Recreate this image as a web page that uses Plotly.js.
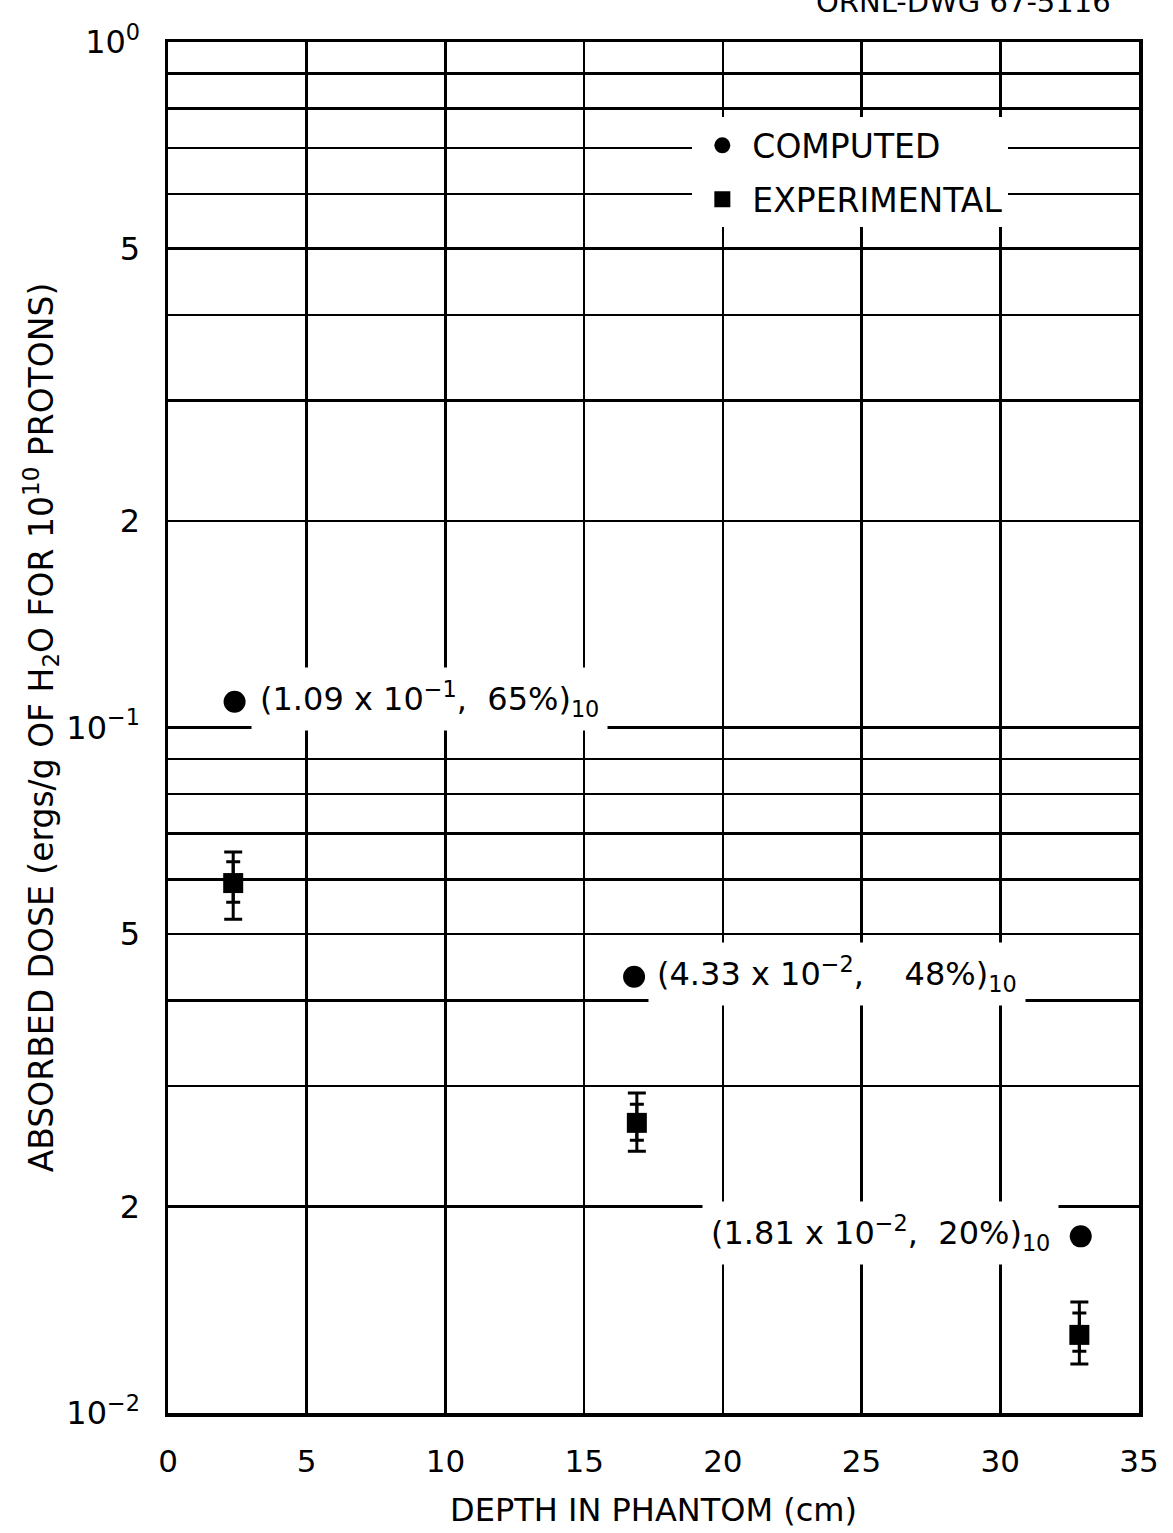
<!DOCTYPE html>
<html>
<head>
<meta charset="utf-8">
<script src="https://cdn.plot.ly/plotly-3.0.1.min.js"></script>
<style>html,body{margin:0;padding:0;background:#fff;}#chart{width:1173px;height:1533px;}</style>
</head>
<body>
<div id="chart"></div>
<script>
// Computed values
var compDepth = [2.4, 16.8, 32.9];
var compDose = [0.109, 0.0433, 0.0181];
var compLabels = ["(1.09 x 10<sup>−1</sup>,  65%)<sub>10</sub>", "(4.33 x 10<sup>−2</sup>,    48%)<sub>10</sub>", "(1.81 x 10<sup>−2</sup>,  20%)<sub>10</sub>"];
// Experimental values
var expDepth = [2.35, 16.9, 32.85];
var expDose = [0.0593, 0.0265, 0.0130];
var expOuterHi = [0.0658, 0.0293, 0.01452];
var expOuterLo = [0.0525, 0.0241, 0.01179];
var expInnerHi = [0.0637, 0.0282, 0.01399];
var expInnerLo = [0.0556, 0.0250, 0.01231];
// Axis ticks
var yTickVals = [0.01,0.02,0.03,0.04,0.05,0.06,0.07,0.08,0.09,0.1,0.2,0.3,0.4,0.5,0.6,0.7,0.8,0.9,1];
var yTickText = ["10<sup>−2</sup>","2","","","5","","","","","10<sup>−1</sup>","2","","","5","","","","","10<sup>0</sup>"];
var xTickVals = [0,5,10,15,20,25,30,35];

function diff(a,b){return a.map(function(v,i){return Math.abs(v-b[i]);});}

var FONT = "DejaVu Sans, Liberation Sans, sans-serif";

var traces = [
  {x: compDepth, y: compDose, mode:'markers', name:'COMPUTED', legendgroup:'a',
   marker:{symbol:'circle', size:22, color:'#000'}},
  {x: expDepth, y: expDose, mode:'markers', name:'EXPERIMENTAL', legendgroup:'b',
   marker:{symbol:'square', size:20, color:'#000'},
   error_y:{type:'data', symmetric:false, array: diff(expOuterHi, expDose), arrayminus: diff(expDose, expOuterLo), color:'#000', thickness:3, width:9}},
  {x: expDepth, y: expDose, mode:'markers', showlegend:false, hoverinfo:'skip', legendgroup:'c',
   marker:{symbol:'square', size:1, color:'rgba(0,0,0,0)'},
   error_y:{type:'data', symmetric:false, array: diff(expInnerHi, expDose), arrayminus: diff(expDose, expInnerLo), color:'#000', thickness:3, width:7}}
];

var AF = {family:FONT, size:32, color:'#000'};
var annotations = [
  {x: compDepth[0], y: Math.log10(compDose[0]), xref:'x', yref:'y', text: compLabels[0], showarrow:false, xanchor:'left', yanchor:'middle', xshift:16, yshift:3, bgcolor:'#fff', borderpad:8, font:AF},
  {x: compDepth[1], y: Math.log10(compDose[1]), xref:'x', yref:'y', text: compLabels[1], showarrow:false, xanchor:'left', yanchor:'middle', xshift:14, yshift:3, bgcolor:'#fff', borderpad:8, font:AF},
  {x: compDepth[2], y: Math.log10(compDose[2]), xref:'x', yref:'y', text: compLabels[2], showarrow:false, xanchor:'right', yanchor:'middle', xshift:-22, yshift:3, bgcolor:'#fff', borderpad:8, font:AF},
  {x: 0.973, y: 1.029, xref:'paper', yref:'paper', text:'ORNL-DWG 67-5116', showarrow:false, xanchor:'right', yanchor:'middle', font:{family:FONT, size:29, color:'#000'}}
];

var layout = {
  width:1173, height:1533,
  paper_bgcolor:'#fff', plot_bgcolor:'#fff',
  margin:{l:168, r:34, t:42, b:120},
  showlegend:true,
  legend:{x:0.54, y:0.945, xanchor:'left', yanchor:'top', bgcolor:'#fff', borderwidth:0,
          font:{family:FONT, size:33, color:'#000'}, itemwidth:50, tracegroupgap:8},
  xaxis:{range:[0,35], tickvals:xTickVals, ticks:'', showgrid:true, gridcolor:'#000', gridwidth:2.5,
         zeroline:false, showline:true, linecolor:'#000', linewidth:3.5, mirror:true,
         tickfont:{family:FONT, size:31, color:'#000'}, ticklabelstandoff:18,
         title:{text:'DEPTH IN PHANTOM (cm)', font:{family:FONT, size:32, color:'#000'}, standoff:22}},
  yaxis:{type:'log', range:[-2,0], tickvals:yTickVals, ticktext:yTickText, ticks:'', showgrid:true, gridcolor:'#000', gridwidth:2.5,
         zeroline:false, showline:true, linecolor:'#000', linewidth:3.5, mirror:true,
         tickfont:{family:FONT, size:32, color:'#000'}, ticklabelstandoff:18,
         title:{text:'ABSORBED DOSE (ergs/g OF H<sub>2</sub>O FOR 10<sup>10</sup> PROTONS)', font:{family:FONT, size:33, color:'#000'}, standoff:4}},
  annotations: annotations
};

Plotly.newPlot('chart', traces, layout, {staticPlot:true});
</script>
</body>
</html>
